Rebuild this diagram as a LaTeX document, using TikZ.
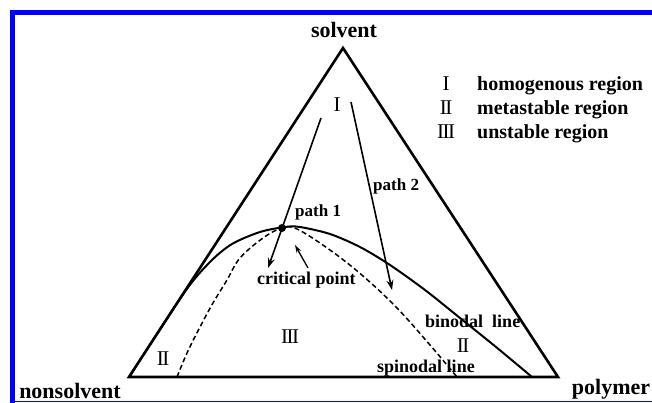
\documentclass[tikz,border=0pt]{standalone}
\usepackage{fontspec}
\setmainfont{Liberation Serif}
\usetikzlibrary{arrows.meta}
\newcommand{\rI}{I}
\newcommand{\rII}{I\kern-1.5pt I}
\newcommand{\rIII}{I\kern-1.5pt I\kern-1.5pt I}
\begin{document}
\begin{tikzpicture}[x=1pt,y=-1pt,
  big/.style={font=\bfseries\fontsize{22}{24}\selectfont,inner sep=0pt,anchor=base},
  lbl/.style={font=\bfseries\fontsize{20}{22}\selectfont,inner sep=0pt,anchor=base west},
  sml/.style={font=\bfseries\fontsize{18}{20}\selectfont,inner sep=0pt,anchor=base west},
  num/.style={font=\fontsize{21}{22}\selectfont,inner sep=0pt,anchor=base},
  arr/.style={line width=1.6pt,-{Stealth[length=10pt,width=7pt]}}]
\useasboundingbox (0,0) rectangle (652,403);
\draw[blue,line width=5pt](12.5,403)--(12.5,12.5)--(652,12.5);
\draw[blue,line width=1.5pt](12,401.5)--(652,401.5);
% triangle
\coordinate (T) at (343,48);\coordinate (L) at (129,377);\coordinate (R) at (558,377);
\draw[line width=2.6pt,line join=miter](L)--(T)--(R)--cycle;
\node[big] (sol) at (344,38){solvent};
\node[big] (non) at (70,398){nonsolvent};
\node[big] (pol) at (611,394){polymer};
% binodal and spinodal
\draw[line width=2pt]plot[smooth,tension=0.5]coordinates{(129,377)(184,293)(210,262)(232,244)(260,232)(285,227)(300,227)(330,234)(360,247)(390,265)(425,290)(460,318)(496,347)(532,377)};
\draw[line width=1.5pt,dash pattern=on 5pt off 3pt]plot[smooth,tension=0.6]coordinates{(177,377)(187,353)(200,327)(213,303)(227,280)(240,258)(263,238)(282,228)(297,229)(330,250)(363,276)(397,308)(430,345)(457,377)};
\node[circle,fill,inner sep=0pt,minimum size=8pt] (cp) at (282,228){};
% paths
\coordinate (p1s) at (321,118);\coordinate (p1e) at (268,268);
\coordinate (p2s) at (351,102);\coordinate (p2e) at (392,290);
\draw[arr](p1s)--(p1e);\draw[arr](p2s)--(p2e);
\coordinate (cpa) at (308,268);\coordinate (cpb) at (295,245);
\draw[line width=1.3pt,-{Stealth[length=8pt,width=5pt]}](cpa)--(cpb);
\node[sml,font=\bfseries\fontsize{17}{19}\selectfont] (pa1) at (295,216){path 1};
\node[sml,font=\bfseries\fontsize{17}{19}\selectfont] (pa2) at (373,191){path 2};
\node[sml] (crit) at (257,284){critical point};
\node[sml] (bin) at (425,327){binodal~~line};
\node[sml] (spi) at (377,372){spinodal line};
% regions
\node[num] (r1) at (337,112){\rI};
\node[num] (r3) at (290,343){\rIII};
\node[num] (r2a) at (163,365){\rII};
\node[num] (r2b) at (463,352){\rII};
% legend
\foreach \n/\t/\y in {\rI/homogenous region/91,\rII/metastable region/115,\rIII/unstable region/139}{
  \node[num] at (446,\y){\n};\node[lbl] at (477,\y){\t};}
\end{tikzpicture}
\end{document}
